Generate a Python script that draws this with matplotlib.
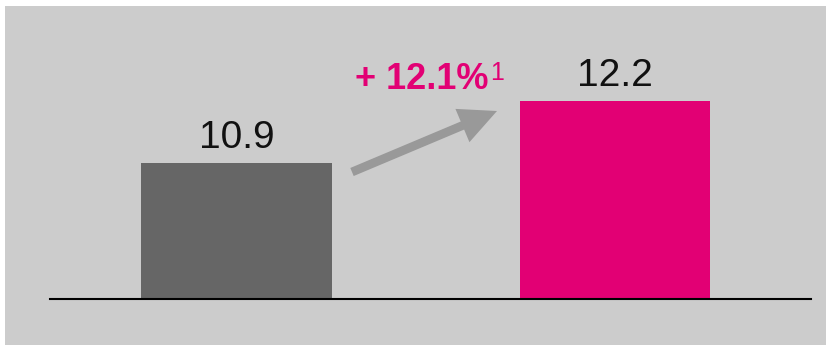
import matplotlib
matplotlib.use("Agg")
import matplotlib.pyplot as plt
import matplotlib.patches as mpatches

# data
categories = ["prev", "curr"]
values = [10.9, 12.2]
labels = ["10.9", "12.2"]
bar_colors = ["#666666", "#e20074"]
growth_label = "+ 12.1%"
growth_note = "1"

fam = ["Liberation Sans", "DejaVu Sans"]

fig = plt.figure(figsize=(8.26, 3.45), dpi=100)
fig.patch.set_facecolor("white")
bg = mpatches.Rectangle((5 / 826, 0), 1, 339 / 345, transform=fig.transFigure,
                        facecolor="#cccccc", edgecolor="none", zorder=-10)
fig.patches.append(bg)

ax = fig.add_axes([50 / 826, 46.5 / 345, 761 / 826, 292.5 / 345])
ax.set_facecolor("none")

x = range(len(values))
ax.bar(x, values, width=0.503, color=bar_colors, bottom=0)
ax.set_xlim(-0.4927, 1.518)
ax.set_ylim(8.07, 14.2)

for xi, v, lab in zip(x, values, labels):
    ax.annotate(lab, xy=(xi, v), xytext=(0, 10.8), textcoords="offset points",
                ha="center", va="baseline", fontsize=28, family=fam, color="#111111")

# growth arrow
arr = mpatches.FancyArrowPatch((352 / 826, 1 - 172 / 345), (497 / 826, 1 - 111 / 345),
                               transform=fig.transFigure,
                               arrowstyle="simple,head_length=27,head_width=26,tail_width=6.3",
                               mutation_scale=1, color="#999999", lw=0, shrinkA=0, shrinkB=0)
fig.patches.append(arr)

t = fig.text(355 / 826, 1 - 89 / 345, growth_label, ha="left", va="baseline",
             fontsize=26, fontweight="bold", family=fam, color="#e20074")
note = plt.Annotation(growth_note, xy=(1, 1), xycoords=t, xytext=(1, 1),
                      textcoords="offset points", ha="left", va="top",
                      fontsize=18, family=fam, color="#e20074")
note.set_figure(fig)
fig.texts.append(note)

for s in ["top", "left", "right"]:
    ax.spines[s].set_visible(False)
ax.spines["bottom"].set_linewidth(1.5)
ax.set_xticks([])
ax.set_yticks([])

fig.savefig("out.png", dpi=100)
